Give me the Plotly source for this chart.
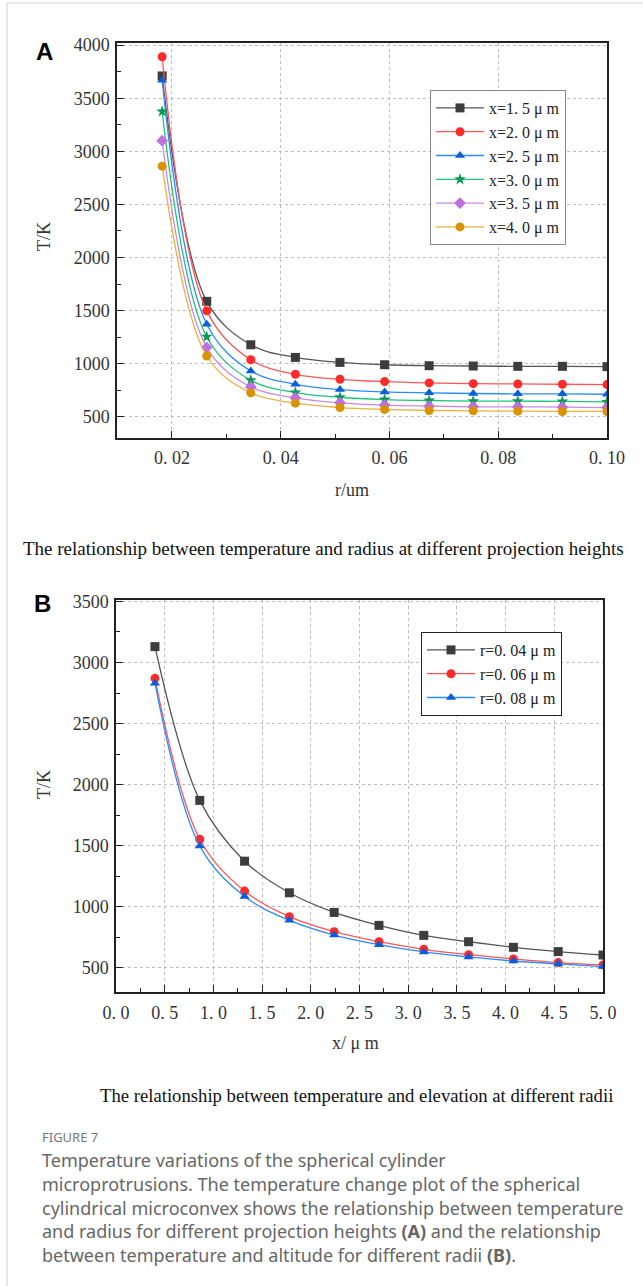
import plotly.graph_objects as go

W, H = 643, 1286

# ---------------- Data: panel A (T vs r for different heights x) ----------------
r_vals = [0.0182, 0.0264, 0.0345, 0.0427, 0.0509, 0.0591, 0.0673, 0.0754, 0.0836, 0.0918, 0.10]
a_names = ["x=1. 5 μ m", "x=2. 0 μ m", "x=2. 5 μ m", "x=3. 0 μ m", "x=3. 5 μ m", "x=4. 0 μ m"]
T_x15 = [3710, 1587, 1178, 1059, 1012, 990, 981, 978, 975, 975, 972]
T_x20 = [3890, 1497, 1037, 900, 853, 831, 819, 812, 809, 806, 803]
T_x25 = [3670, 1372, 931, 806, 756, 734, 725, 719, 716, 716, 712]
T_x30 = [3375, 1253, 844, 728, 684, 662, 653, 647, 647, 644, 640]
T_x35 = [3100, 1153, 781, 678, 631, 609, 600, 594, 594, 590, 587]
T_x40 = [2860, 1072, 725, 628, 587, 569, 559, 556, 553, 550, 550]
a_series = [T_x15, T_x20, T_x25, T_x30, T_x35, T_x40]

# ---------------- Data: panel B (T vs x for different radii r) ----------------
x_vals = [0.40, 0.86, 1.32, 1.78, 2.24, 2.70, 3.16, 3.62, 4.08, 4.54, 5.00]
b_names = ["r=0. 04 μ m", "r=0. 06 μ m", "r=0. 08 μ m"]
T_r004 = [3130, 1870, 1372, 1113, 952, 846, 764, 712, 666, 631, 603]
T_r006 = [2870, 1552, 1127, 917, 794, 712, 650, 606, 571, 541, 522]
T_r008 = [2830, 1497, 1083, 887, 767, 688, 628, 587, 554, 530, 508]
b_series = [T_r004, T_r006, T_r008]

a_xticks = [0.02, 0.04, 0.06, 0.08, 0.10]
a_xticktext = ["0. 02", "0. 04", "0. 06", "0. 08", "0. 10"]
a_yticks = [500, 1000, 1500, 2000, 2500, 3000, 3500, 4000]
b_xticks = [0.0, 0.5, 1.0, 1.5, 2.0, 2.5, 3.0, 3.5, 4.0, 4.5, 5.0]
b_xticktext = ["0. 0", "0. 5", "1. 0", "1. 5", "2. 0", "2. 5", "3. 0", "3. 5", "4. 0", "4. 5", "5. 0"]
b_yticks = [500, 1000, 1500, 2000, 2500, 3000, 3500]

# ---------------- Styles ----------------
a_styles = [
    dict(line="#555555", marker="#3d3d3d", symbol="square"),
    dict(line="#ff5555", marker="#ff2a2a", symbol="circle"),
    dict(line="#2b8cff", marker="#0a5fd8", symbol="triangle-up"),
    dict(line="#1ec47a", marker="#0a9a55", symbol="star"),
    dict(line="#c88be0", marker="#bf6fe0", symbol="diamond"),
    dict(line="#e8b040", marker="#d99200", symbol="circle"),
]
b_styles = a_styles[:3]

SERIF = "Liberation Serif, DejaVu Serif, serif"
SANS = "Noto Sans, Open Sans, sans-serif"


def px_x(p):
    return p / W


def px_y(p):
    return 1 - p / H


fig = go.Figure()

for name, ys, st in zip(a_names, a_series, a_styles):
    fig.add_trace(go.Scatter(
        x=r_vals, y=ys, name=name, mode="lines+markers",
        line=dict(color=st["line"], width=1.3, shape="spline", smoothing=1.0),
        marker=dict(color=st["marker"], symbol=st["symbol"], size=9),
        xaxis="x", yaxis="y", legend="legend",
    ))

for name, ys, st in zip(b_names, b_series, b_styles):
    fig.add_trace(go.Scatter(
        x=x_vals, y=ys, name=name, mode="lines+markers",
        line=dict(color=st["line"], width=1.3, shape="spline", smoothing=1.0),
        marker=dict(color=st["marker"], symbol=st["symbol"], size=9),
        xaxis="x2", yaxis="y2", legend="legend2",
    ))

axis_common = dict(
    showline=True, linecolor="#222222", linewidth=1.5, mirror=True,
    showgrid=True, gridcolor="#bdbdbd", griddash="dot", gridwidth=1,
    zeroline=False, ticks="inside", ticklen=7, tickcolor="#222222",
    tickfont=dict(family=SERIF, size=18, color="#333333"),
    automargin=False,
)
minor_common = dict(ticks="inside", ticklen=4, tickcolor="#222222", showgrid=False)

fig.update_layout(
    width=W, height=H,
    paper_bgcolor="white", plot_bgcolor="white",
    margin=dict(l=0, r=0, t=0, b=0, autoexpand=False),
    showlegend=True,
    xaxis=dict(axis_common, domain=[px_x(117), px_x(607)], range=[0.0099, 0.10],
               tickvals=a_xticks, ticktext=a_xticktext, anchor="y", ticklabelstandoff=3,
               minor=dict(minor_common, dtick=0.01, tick0=0.0)),
    yaxis=dict(axis_common, domain=[px_y(438), px_y(43)], range=[300, 4020],
               tickvals=a_yticks, anchor="x", ticklabelstandoff=2,
               minor=dict(minor_common, dtick=250, tick0=0)),
    xaxis2=dict(axis_common, domain=[px_x(116), px_x(603)], range=[0, 5.0],
                tickvals=b_xticks, ticktext=b_xticktext, anchor="y2", ticklabelstandoff=4,
                minor=dict(minor_common, dtick=0.25, tick0=0.0)),
    yaxis2=dict(axis_common, domain=[px_y(992), px_y(600)], range=[300, 3512],
                tickvals=b_yticks, anchor="x2", ticklabelstandoff=2,
                minor=dict(minor_common, dtick=250, tick0=0)),
    legend=dict(x=px_x(430), y=px_y(90), xanchor="left", yanchor="top",
                bgcolor="white", bordercolor="#888888", borderwidth=1,
                font=dict(family=SERIF, size=16, color="#222222"),
                tracegroupgap=0, itemwidth=48),
    legend2=dict(x=px_x(421), y=px_y(632), xanchor="left", yanchor="top",
                 bgcolor="white", bordercolor="#222222", borderwidth=1,
                 font=dict(family=SERIF, size=16, color="#222222"),
                 tracegroupgap=0, itemwidth=48),
)

ann = []


def add_text(text, xp, yp, size, family, color="#111111", xanchor="center", textangle=0):
    ann.append(dict(text=text, x=px_x(xp), y=px_y(yp), xref="paper", yref="paper",
                    xanchor=xanchor, yanchor="middle", showarrow=False, textangle=textangle,
                    font=dict(family=family, size=size, color=color)))


add_text("<b>A</b>", 44, 52, 24, "Liberation Sans, Arial, sans-serif", "#000000")
add_text("<b>B</b>", 42, 603, 24, "Liberation Sans, Arial, sans-serif", "#000000")
add_text("T/K", 44, 237, 18, SERIF, "#333333", textangle=-90)
add_text("r/um", 352, 490, 18, SERIF, "#333333")
add_text("T/K", 44, 785, 18, SERIF, "#333333", textangle=-90)
add_text("x/ μ m", 355, 1043, 18, SERIF, "#333333")
add_text("The relationship between temperature and radius at different projection heights",
         323, 548, 19, SERIF, "#111111")
add_text("The relationship between temperature and elevation at different radii",
         356, 1095, 18.7, SERIF, "#111111")
add_text("FIGURE 7", 40, 1137, 13, SANS, "#777777", xanchor="left")
cap_lines = [
    "Temperature variations of the spherical cylinder",
    "microprotrusions. The temperature change plot of the spherical",
    "cylindrical microconvex shows the relationship between temperature",
    "and radius for different projection heights <b>(A)</b> and the relationship",
    "between temperature and altitude for different radii <b>(B)</b>.",
]
for i, line in enumerate(cap_lines):
    add_text(line, 40, 1160 + 23.8 * i, 18, SANS, "#666666", xanchor="left")

fig.update_layout(annotations=ann)

fig.add_shape(type="line", xref="paper", yref="paper", x0=px_x(7), x1=px_x(7), y0=0, y1=px_y(3),
              line=dict(color="#d0d0d0", width=1))
fig.add_shape(type="line", xref="paper", yref="paper", x0=px_x(7), x1=1, y0=px_y(3), y1=px_y(3),
              line=dict(color="#d0d0d0", width=1))

fig.write_html("out.html", config={"displayModeBar": False},
               post_script="document.body.style.margin='0';document.body.style.overflow='hidden';")
